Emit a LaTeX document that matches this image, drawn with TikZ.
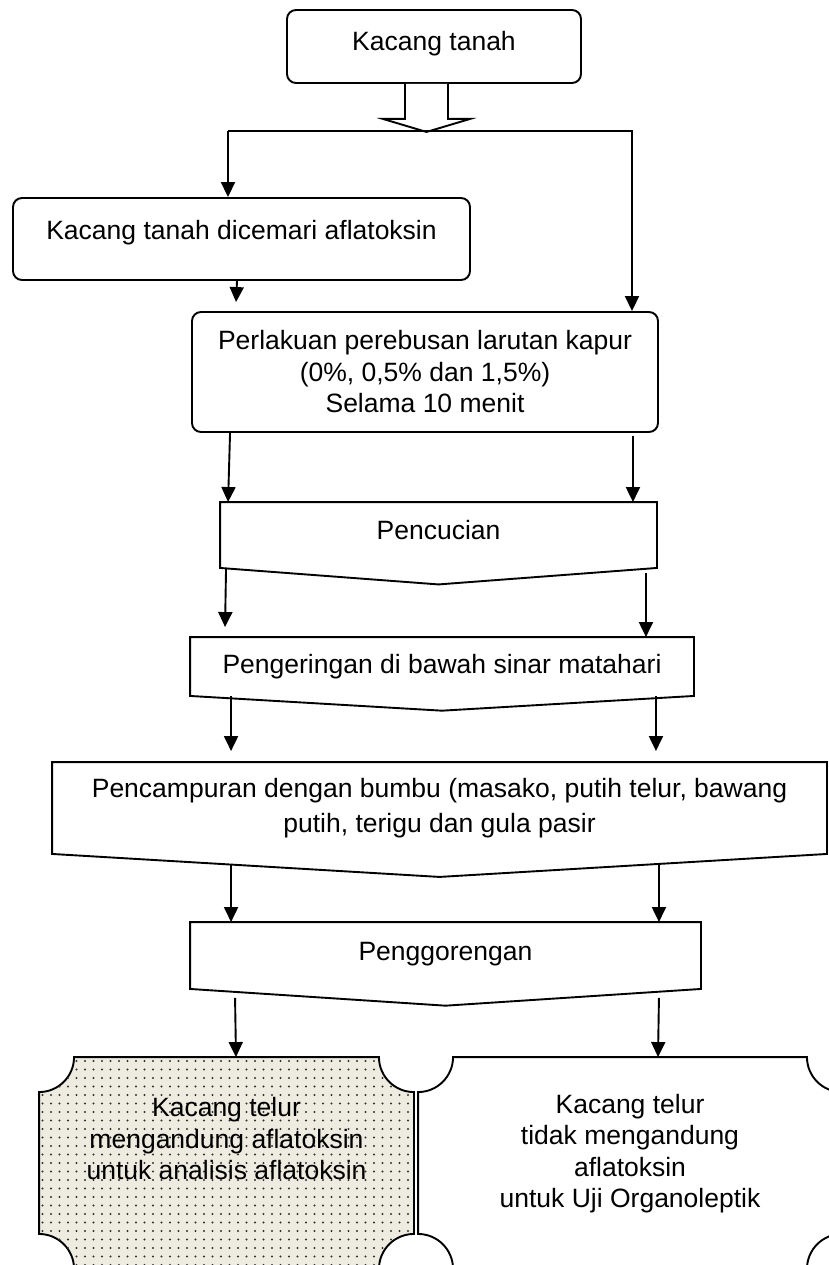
\documentclass[tikz,border=0pt]{standalone}
\usepackage{fontspec}
\setmainfont{Liberation Sans}
\usetikzlibrary{arrows.meta, calc, patterns.meta}
\definecolor{DotBeige}{RGB}{238,235,224}
\definecolor{DotGrey}{RGB}{50,50,50}

\begin{document}
\begin{tikzpicture}[
    x=1pt, y=-1pt,
    line width=1.9pt,
    txt/.style={font=\fontsize{26.5}{31.5}\selectfont, align=center, inner sep=0pt},
    roundbox/.style={txt, draw, rounded corners=9pt},
    offbox/.style={txt, draw=none},
    frame/.style={draw=none, inner sep=0pt},
    link/.style={-{Triangle[width=14pt,length=15pt]}}
  ]
  \useasboundingbox (0,0) rectangle (829,1265);

  % boxes
  \node (kacang) [roundbox, minimum width=294pt, minimum height=73pt, text depth=10.6pt] at (434,46.5) {Kacang tanah};
  \node (dicemari) [roundbox, minimum width=457pt, minimum height=82pt, text depth=17.6pt] at (241.5,239) {Kacang tanah dicemari aflatoksin};
  \node (perlakuan) [roundbox, minimum width=466pt, minimum height=120pt] at (425,372) {Perlakuan perebusan larutan kapur\\(0\%, 0,5\% dan 1,5\%)\\Selama 10 menit};
  \node (pencucian) [offbox, minimum width=435pt, minimum height=64pt, text depth=10pt] at (438.5,535) {Pencucian};
  \node (pengeringan) [offbox, minimum width=502pt, minimum height=57pt] at (442,666.5) {Pengeringan di bawah sinar matahari};
  \node (pencampuran) [offbox, minimum width=773pt, minimum height=90pt] at (439.5,808) {Pencampuran dengan bumbu (masako, putih telur, bawang\\[3pt]putih, terigu dan gula pasir};
  \node (penggorengan) [offbox, minimum width=509pt, minimum height=65pt, text depth=9pt] at (445.5,955.5) {Penggorengan};
  \node (hasilA) [frame, minimum width=373pt, minimum height=210pt] at (226.5,1163) {};
  \node (hasilB) [frame, minimum width=422pt, minimum height=210pt] at (630,1163) {};

  % off-page outlines
  \foreach \n in {pencucian, pengeringan, pencampuran, penggorengan}
    \draw (\n.north west) -- (\n.north east) -- (\n.south east)
      -- ($(\n.south)!-0.25!(\n.north)$) -- (\n.south west) -- cycle;

  % plaques
  \draw[fill=DotBeige, postaction={pattern={Dots[distance=8.5pt,radius=1.1pt]}, pattern color=DotGrey}]
    ([xshift=35pt]hasilA.north west) -- ([xshift=-35pt]hasilA.north east)
    arc[start angle=180, end angle=270, radius=35pt]
    -- ([yshift=35pt]hasilA.south east)
    arc[start angle=90, end angle=180, radius=35pt]
    -- ([xshift=35pt]hasilA.south west)
    arc[start angle=0, end angle=90, radius=35pt]
    -- ([yshift=-35pt]hasilA.north west)
    arc[start angle=270, end angle=360, radius=35pt] -- cycle;
  \draw[fill=white]
    ([xshift=35pt]hasilB.north west) -- ([xshift=-35pt]hasilB.north east)
    arc[start angle=180, end angle=270, radius=35pt]
    -- ([yshift=35pt]hasilB.south east)
    arc[start angle=90, end angle=180, radius=35pt]
    -- ([xshift=35pt]hasilB.south west)
    arc[start angle=0, end angle=90, radius=35pt]
    -- ([yshift=-35pt]hasilB.north west)
    arc[start angle=270, end angle=360, radius=35pt] -- cycle;
  \node (hasilAtxt) [txt] at ([yshift=24pt]hasilA.center) {Kacang telur\\mengandung aflatoksin\\untuk analisis aflatoksin};
  \node (hasilBtxt) [txt] at ([yshift=9.5pt]hasilB.center) {Kacang telur\\tidak mengandung\\aflatoksin\\untuk Uji Organoleptik};

  % block arrow and split
  \coordinate (blk) at ([xshift=-7.5pt]kacang.south);
  \draw[fill=white] ([xshift=-21.5pt]blk) -- ++(0,35) -- ++(-22,0) -- ++(43.5,13)
    -- ++(43.5,-13) -- ++(-22,0) -- ++(0,-35);
  \coordinate (splitL) at (228,131);
  \coordinate (splitR) at (632,131);
  \draw (splitL) -- ([xshift=1pt]splitR);
  \draw[link] (splitL) -- (splitL |- dicemari.north);
  \draw[link] (splitR) -- (splitR |- perlakuan.north);

  % connectors
  \draw[link] ([xshift=-4.5pt]dicemari.south) -- ([xshift=45pt, yshift=9pt]perlakuan.north west);
  \draw[link] ([xshift=39pt]perlakuan.south west) -- ([xshift=8pt]pencucian.north west);
  \draw[link] ([xshift=-26pt, yshift=-3pt]perlakuan.south east) -- ([xshift=-24pt]pencucian.north east);
  \draw[link] ([xshift=6pt]pencucian.south west) -- ([xshift=35pt, yshift=10pt]pengeringan.north west);
  \draw[link] ([xshift=-11pt, yshift=-5pt]pencucian.south east) -- ([xshift=-48pt]pengeringan.north east);
  \draw[link] ([xshift=41pt]pengeringan.south west) -- ([xshift=179pt, yshift=11pt]pencampuran.north west);
  \draw[link] ([xshift=-38pt]pengeringan.south east) -- ([xshift=-171pt, yshift=11pt]pencampuran.north east);
  \draw[link] ([xshift=179pt, yshift=-10pt]pencampuran.south west) -- ([xshift=41pt]penggorengan.north west);
  \draw[link] ([xshift=-168pt, yshift=-10pt]pencampuran.south east) -- ([xshift=-42pt]penggorengan.north east);
  \draw[link] ([xshift=45pt, yshift=-9pt]penggorengan.south west) -- ([xshift=9.5pt]hasilA.north);
  \draw[link] ([xshift=-42pt, yshift=-9pt]penggorengan.south east) -- ([xshift=28pt]hasilB.north);
\end{tikzpicture}
\end{document}
